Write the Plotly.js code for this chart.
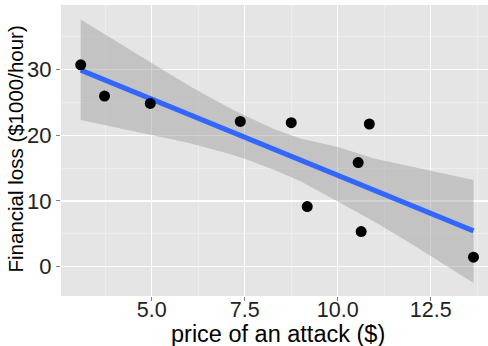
<!DOCTYPE html>
<html>
<head>
<meta charset="utf-8">
<script src="https://cdn.plot.ly/plotly-3.0.1.min.js"></script>
<style>
html,body{margin:0;padding:0;background:#fff;}
#chart{width:488px;height:346px;}
</style>
</head>
<body>
<div id="chart"></div>
<script>
// Observed points
var priceX = [3.09, 3.73, 4.96, 7.38, 8.75, 9.18, 10.55, 10.63, 10.85, 13.65];
var lossY  = [30.7, 25.95, 24.83, 22.09, 21.9, 9.15, 15.84, 5.34, 21.7, 1.45];

// Fitted line
var fitX = [3.09, 13.65];
var fitY = [29.9, 5.45];

// Confidence band
var bandX     = [3.09, 4.0, 5.0, 6.0, 7.0, 7.5, 8.3, 9.0, 10.0, 11.0, 12.0, 12.5, 13.65];
var bandUpper = [37.6, 34.4, 30.9, 27.5, 24.4, 23.0, 20.9, 19.5, 18.2, 16.4, 15.2, 14.6, 13.2];
var bandLower = [22.3, 21.2, 20.1, 18.8, 17.3, 16.4, 14.7, 13.0, 9.9, 6.8, 3.4, 1.6, -2.5];

var xTickVals = [5.0, 7.5, 10.0, 12.5];
var xTickText = ["5.0", "7.5", "10.0", "12.5"];
var yTickVals = [0, 10, 20, 30];
var yTickText = ["0", "10", "20", "30"];

var xTitle = "price of an attack ($)";
var yTitle = "Financial loss ($1000/hour)";

var FONT = "Liberation Sans, Arial, Helvetica, sans-serif";

var traces = [
  {
    x: bandX, y: bandLower, type: "scatter", mode: "lines",
    line: {width: 0, color: "rgba(0,0,0,0)"}, hoverinfo: "skip", showlegend: false
  },
  {
    x: bandX, y: bandUpper, type: "scatter", mode: "lines", fill: "tonexty",
    fillcolor: "rgba(153,153,153,0.45)",
    line: {width: 0, color: "rgba(0,0,0,0)"}, hoverinfo: "skip", showlegend: false
  },
  {
    x: fitX, y: fitY, type: "scatter", mode: "lines",
    line: {color: "#3366FF", width: 5}, showlegend: false
  },
  {
    x: priceX, y: lossY, type: "scatter", mode: "markers",
    marker: {color: "#000000", size: 11}, showlegend: false
  }
];

var layout = {
  width: 488, height: 346,
  margin: {l: 61, r: 0, t: 5, b: 50, pad: 0},
  paper_bgcolor: "#ffffff",
  plot_bgcolor: "#e5e5e5",
  font: {family: FONT, color: "#222222"},
  showlegend: false,
  xaxis: {
    range: [2.56, 14.04],
    tickvals: xTickVals, ticktext: xTickText,
    ticks: "outside", ticklen: 4, tickwidth: 1, tickcolor: "#7f7f7f",
    ticklabelstandoff: -10,
    tickfont: {family: FONT, size: 21.5, color: "#222222"},
    showgrid: true, gridcolor: "#ffffff", gridwidth: 1.2,
    minor: {dtick: 1.25, tick0: 0, showgrid: true, gridcolor: "#f2f2f2", gridwidth: 0.6, ticks: ""},
    zeroline: false, showline: false,
    automargin: false
  },
  yaxis: {
    range: [-4.46, 39.8],
    tickvals: yTickVals, ticktext: yTickText,
    ticks: "outside", ticklen: 4, tickwidth: 1, tickcolor: "#7f7f7f",
    tickfont: {family: FONT, size: 22, color: "#222222"},
    showgrid: true, gridcolor: "#ffffff", gridwidth: 1.2,
    minor: {dtick: 5, tick0: 0, showgrid: true, gridcolor: "#f2f2f2", gridwidth: 0.6, ticks: ""},
    zeroline: false, showline: false,
    automargin: false
  },
  annotations: [
    {
      text: xTitle, xref: "paper", yref: "paper", x: 0.5, y: 0,
      xanchor: "center", yanchor: "middle", xshift: 3, yshift: -37.5,
      showarrow: false, font: {family: FONT, size: 23.5, color: "#000000"}
    },
    {
      text: yTitle, xref: "paper", yref: "paper", x: 0, y: 0.5,
      xanchor: "center", yanchor: "middle", xshift: -46, yshift: 1, textangle: -90,
      showarrow: false, font: {family: FONT, size: 20.5, color: "#000000"}
    }
  ]
};

Plotly.newPlot("chart", traces, layout, {displayModeBar: false, staticPlot: true});
</script>
</body>
</html>
